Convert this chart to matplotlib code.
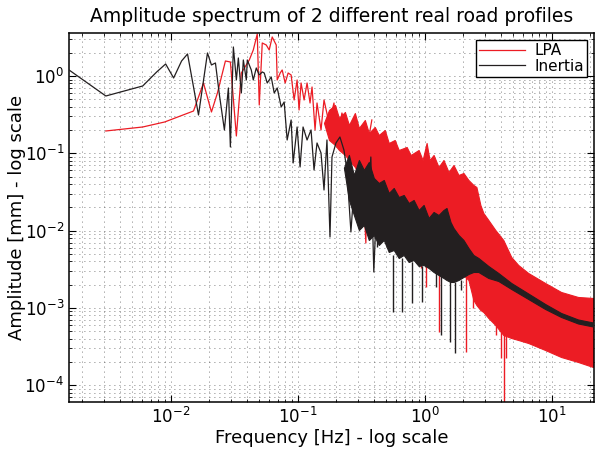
import numpy as np
import matplotlib
matplotlib.use('Agg')
import matplotlib.pyplot as plt

# ---- values ----
# LPA (red): sparse low-frequency part of the spectrum
lpa_f = [0.00309, 0.00603, 0.008974, 0.01515, 0.01815, 0.02097, 0.02337, 0.02701, 0.02955, 0.03294,
         0.03605, 0.04165, 0.04477, 0.04812, 0.04989, 0.05268, 0.05662, 0.05977, 0.0631, 0.06784,
         0.06908, 0.07292, 0.0756, 0.07981, 0.08425, 0.08892, 0.09388, 0.0991, 0.1027, 0.1065,
         0.1125, 0.1187, 0.1253, 0.1299, 0.1372, 0.1422, 0.1529, 0.1614, 0.1767, 0.1934,
         0.2041, 0.2234, 0.2445, 0.2629, 0.2825, 0.2983, 0.315, 0.3447, 0.3573, 0.3841]
lpa_a = [0.1943, 0.2188, 0.254, 0.3525, 0.8117, 0.3421, 0.6028, 1.563, 1.517, 0.1674,
         1.093, 1.611, 2.17, 3.5, 0.4215, 2.673, 2.518, 2.17, 3.196, 2.518,
         0.8877, 1.093, 1.196, 0.8117, 1.093, 1.03, 0.4893, 0.8877, 0.3633, 0.8117,
         0.4893, 0.8117, 0.4473, 0.7205, 0.2002, 0.4473, 0.2002, 0.4893, 0.2466, 0.4473,
         0.1486, 0.3321, 0.2002, 0.1009, 0.2466, 0.1103, 0.1625, 0.006911, 0.1359, 0.2697]

# LPA dense part: upper and lower envelope of the band
lpa_band_f = [0.1614, 0.1767, 0.1969, 0.2117, 0.2358, 0.2535, 0.2825, 0.3038, 0.3384, 0.3638,
              0.4053, 0.4358, 0.4857, 0.5221, 0.5817, 0.6254, 0.7224, 0.7766, 0.8973, 0.9645,
              1.037, 1.094, 1.177, 1.288, 1.409, 1.543, 1.689, 1.849, 2.023, 2.214,
              2.423, 2.558, 2.749, 2.902, 3.177, 3.605, 4.165, 4.812, 5.462, 6.543,
              8.892, 11.87, 16.14, 21.17]
lpa_band_hi = [0.2466, 0.3633, 0.4215, 0.2862, 0.3421, 0.2323, 0.3321, 0.2125, 0.2697, 0.1831,
               0.2188, 0.1725, 0.2002, 0.1359, 0.1486, 0.1103, 0.1206, 0.09506, 0.1103, 0.0819,
               0.1359, 0.0819, 0.09506, 0.06648, 0.0819, 0.05728, 0.07056, 0.05239, 0.0556, 0.04514,
               0.0389, 0.03664, 0.02145, 0.01689, 0.01371, 0.01018, 0.007556, 0.004555, 0.003589, 0.002828,
               0.002099, 0.001606, 0.001384, 0.001343]
lpa_band_lo = [0.2466, 0.1486, 0.128, 0.1103, 0.09506, 0.0819, 0.06648, 0.05239, 0.04128, 0.03351,
               0.03065, 0.02488, 0.02145, 0.01591, 0.01371, 0.01182, 0.01018, 0.00877, 0.00651, 0.005955,
               0.00561, 0.005287, 0.004833, 0.00442, 0.003924, 0.003589, 0.003282, 0.002913, 0.002664, 0.002295,
               0.001266, 0.00109, 0.0009393, 0.0008851, 0.0007403, 0.0006007, 0.0004461, 0.0004078, 0.0003843, 0.0003514,
               0.0002852, 0.0002316, 0.0001996, 0.0001719]

# LPA downward spikes below the band
lpa_spk_f = [0.5512, 0.9304, 1.018, 1.288, 2.135, 2.423, 3.67, 4.017, 4.241, 4.396]
lpa_spk_lo = [0.008265, 0.003282, 0.001863, 0.0004877, 0.0002689, 0.000997, 0.0004461, 0.0002248, 5e-5, 0.0002248]
lpa_spk_hi = [0.01591, 0.00651, 0.00561, 0.00442, 0.002664, 0.001704, 0.000657, 0.0005176, 0.0004735, 0.0004461]

# Inertia (black): sparse low-frequency part
ine_f = [0.001585, 0.00309, 0.00603, 0.00777, 0.00914, 0.01056, 0.0122, 0.01359, 0.01515, 0.01658,
         0.01951, 0.02097, 0.02254, 0.02423, 0.02652, 0.02851, 0.02955, 0.0312, 0.03294, 0.03415,
         0.03605, 0.03738, 0.03946, 0.04017, 0.04317, 0.04477, 0.04727, 0.04989, 0.05268, 0.0546,
         0.05765, 0.06198, 0.06543, 0.06908, 0.07425, 0.07838, 0.08274, 0.08892, 0.09221, 0.0991,
         0.1046, 0.1104, 0.1187, 0.1276, 0.1347, 0.1422, 0.1529, 0.1614, 0.1703, 0.1799,
         0.1865, 0.2005, 0.2154, 0.2316, 0.2445, 0.2629, 0.2774, 0.2929, 0.315, 0.3325,
         0.351, 0.3773, 0.3981, 0.4203]
ine_a = [1.196, 0.5511, 0.7423, 1.127, 1.43, 0.9421, 1.563, 1.926, 0.7205, 0.3129,
         1.984, 1.388, 1.473, 0.5679, 0.2002, 0.6994, 0.1206, 2.372, 0.8877, 1.71,
         0.6028, 1.611, 0.8877, 1.611, 1.196, 0.8877, 1.269, 1.03, 1.127, 1.093,
         0.8117, 0.9707, 0.6028, 0.6994, 0.3972, 0.4609, 0.1486, 0.2697, 0.0749, 0.2188,
         0.06648, 0.2188, 0.1486, 0.2002, 0.0608, 0.1359, 0.1009, 0.03351, 0.1486, 0.008265,
         0.08954, 0.1359, 0.1625, 0.1103, 0.0608, 0.009592, 0.03351, 0.02275, 0.01113, 0.0272,
         0.01499, 0.08954, 0.002913, 0.02488]

# Inertia dense part: upper and lower envelope of the band
ine_band_f = [0.2316, 0.2535, 0.2774, 0.3038, 0.3325, 0.3638, 0.3981, 0.4358, 0.477, 0.5221,
              0.5713, 0.6254, 0.6845, 0.7491, 0.8196, 0.8973, 0.9822, 1.075, 1.177, 1.288,
              1.409, 1.488, 1.599, 1.689, 1.849, 2.023, 2.214, 2.423, 2.652, 3.177,
              3.805, 4.812, 6.543, 8.892, 11.87, 16.14, 21.17]
ine_band_hi = [0.065, 0.09506, 0.05239, 0.0819, 0.0608, 0.07718, 0.04792, 0.04128, 0.04514, 0.03065,
               0.03557, 0.0272, 0.02887, 0.02275, 0.02488, 0.01847, 0.02145, 0.01455, 0.0174, 0.01591,
               0.01847, 0.0196, 0.01292, 0.0108, 0.00877, 0.007556, 0.005955, 0.004833, 0.00442, 0.003483,
               0.002828, 0.002099, 0.001536, 0.001123, 0.000859, 0.0007079, 0.0006474]
ine_band_lo = [0.065, 0.02488, 0.01591, 0.01018, 0.01182, 0.007556, 0.00877, 0.00651, 0.007556, 0.005287,
               0.00561, 0.00442, 0.004833, 0.003924, 0.004164, 0.003483, 0.003589, 0.003282, 0.002913, 0.002664,
               0.002436, 0.002295, 0.002163, 0.002163, 0.002295, 0.00251, 0.002745, 0.002913, 0.002913, 0.002436,
               0.002229, 0.001756, 0.001304, 0.0009678, 0.0007625, 0.0006283, 0.0005746]

# Inertia downward spikes
ine_spk_f = [0.4203, 0.561, 0.6602, 0.7907, 0.9473, 1.22, 1.336, 1.571, 1.751, 1.951]
ine_spk_lo = [0.006135, 0.0008851, 0.0008851, 0.001157, 0.001192, 0.001863, 0.0004461, 0.0003621, 0.0002609, 0.001704]
ine_spk_hi = [0.007556, 0.004833, 0.00442, 0.003924, 0.003483, 0.003093, 0.002664, 0.002295, 0.002163, 0.002295]

red = '#ec1c24'
blk = '#231f20'

fig = plt.figure(figsize=(5.95, 4.53), dpi=100)
ax = fig.add_axes([0.116, 0.1126, 0.882, 0.8146])

# red first, black on top
l1, = ax.plot(lpa_f, lpa_a, color=red, lw=0.9, zorder=2)
ax.fill_between(lpa_band_f, lpa_band_lo, lpa_band_hi, color=red, lw=0.8, zorder=2)
ax.vlines(lpa_spk_f, lpa_spk_lo, lpa_spk_hi, color=red, lw=1.0, zorder=2)

l2, = ax.plot(ine_f, ine_a, color=blk, lw=0.9, zorder=3)
ax.fill_between(ine_band_f, ine_band_lo, ine_band_hi, color=blk, lw=0.8, zorder=3)
ax.vlines(ine_spk_f, ine_spk_lo, ine_spk_hi, color=blk, lw=1.0, zorder=3)

ax.set_xscale('log')
ax.set_yscale('log')
ax.set_xlim(0.001585, 21.5)
ax.set_ylim(6.06e-5, 3.6)

ax.grid(True, which='both', color='#555555', linestyle=(0, (1, 5)), linewidth=0.6)
ax.set_axisbelow(True)
ax.tick_params(which='both', direction='in', top=True, right=True, labelsize=12)
ax.tick_params(which='major', length=5, width=0.8)
ax.tick_params(which='minor', length=2.5, width=0.6)
for s in ax.spines.values():
    s.set_linewidth(1.1)

ax.set_title('Amplitude spectrum of 2 different real road profiles', fontsize=13.5, pad=8)
ax.set_xlabel('Frequency [Hz] - log scale', fontsize=13)
ax.set_ylabel('Amplitude [mm] - log scale', fontsize=13)
ax.xaxis.set_label_coords(0.5, -0.074)
ax.yaxis.set_label_coords(-0.082, 0.5)

leg = ax.legend([l1, l2], ['LPA', 'Inertia'], loc='upper right', bbox_to_anchor=(0.987, 0.981),
                borderaxespad=0, fontsize=11, handlelength=3.0, fancybox=False,
                framealpha=1, edgecolor='black', borderpad=0.2, labelspacing=0.05, handletextpad=0.6)
leg.get_frame().set_linewidth(1.0)

plt.savefig('out.png', dpi=100)
plt.close()
